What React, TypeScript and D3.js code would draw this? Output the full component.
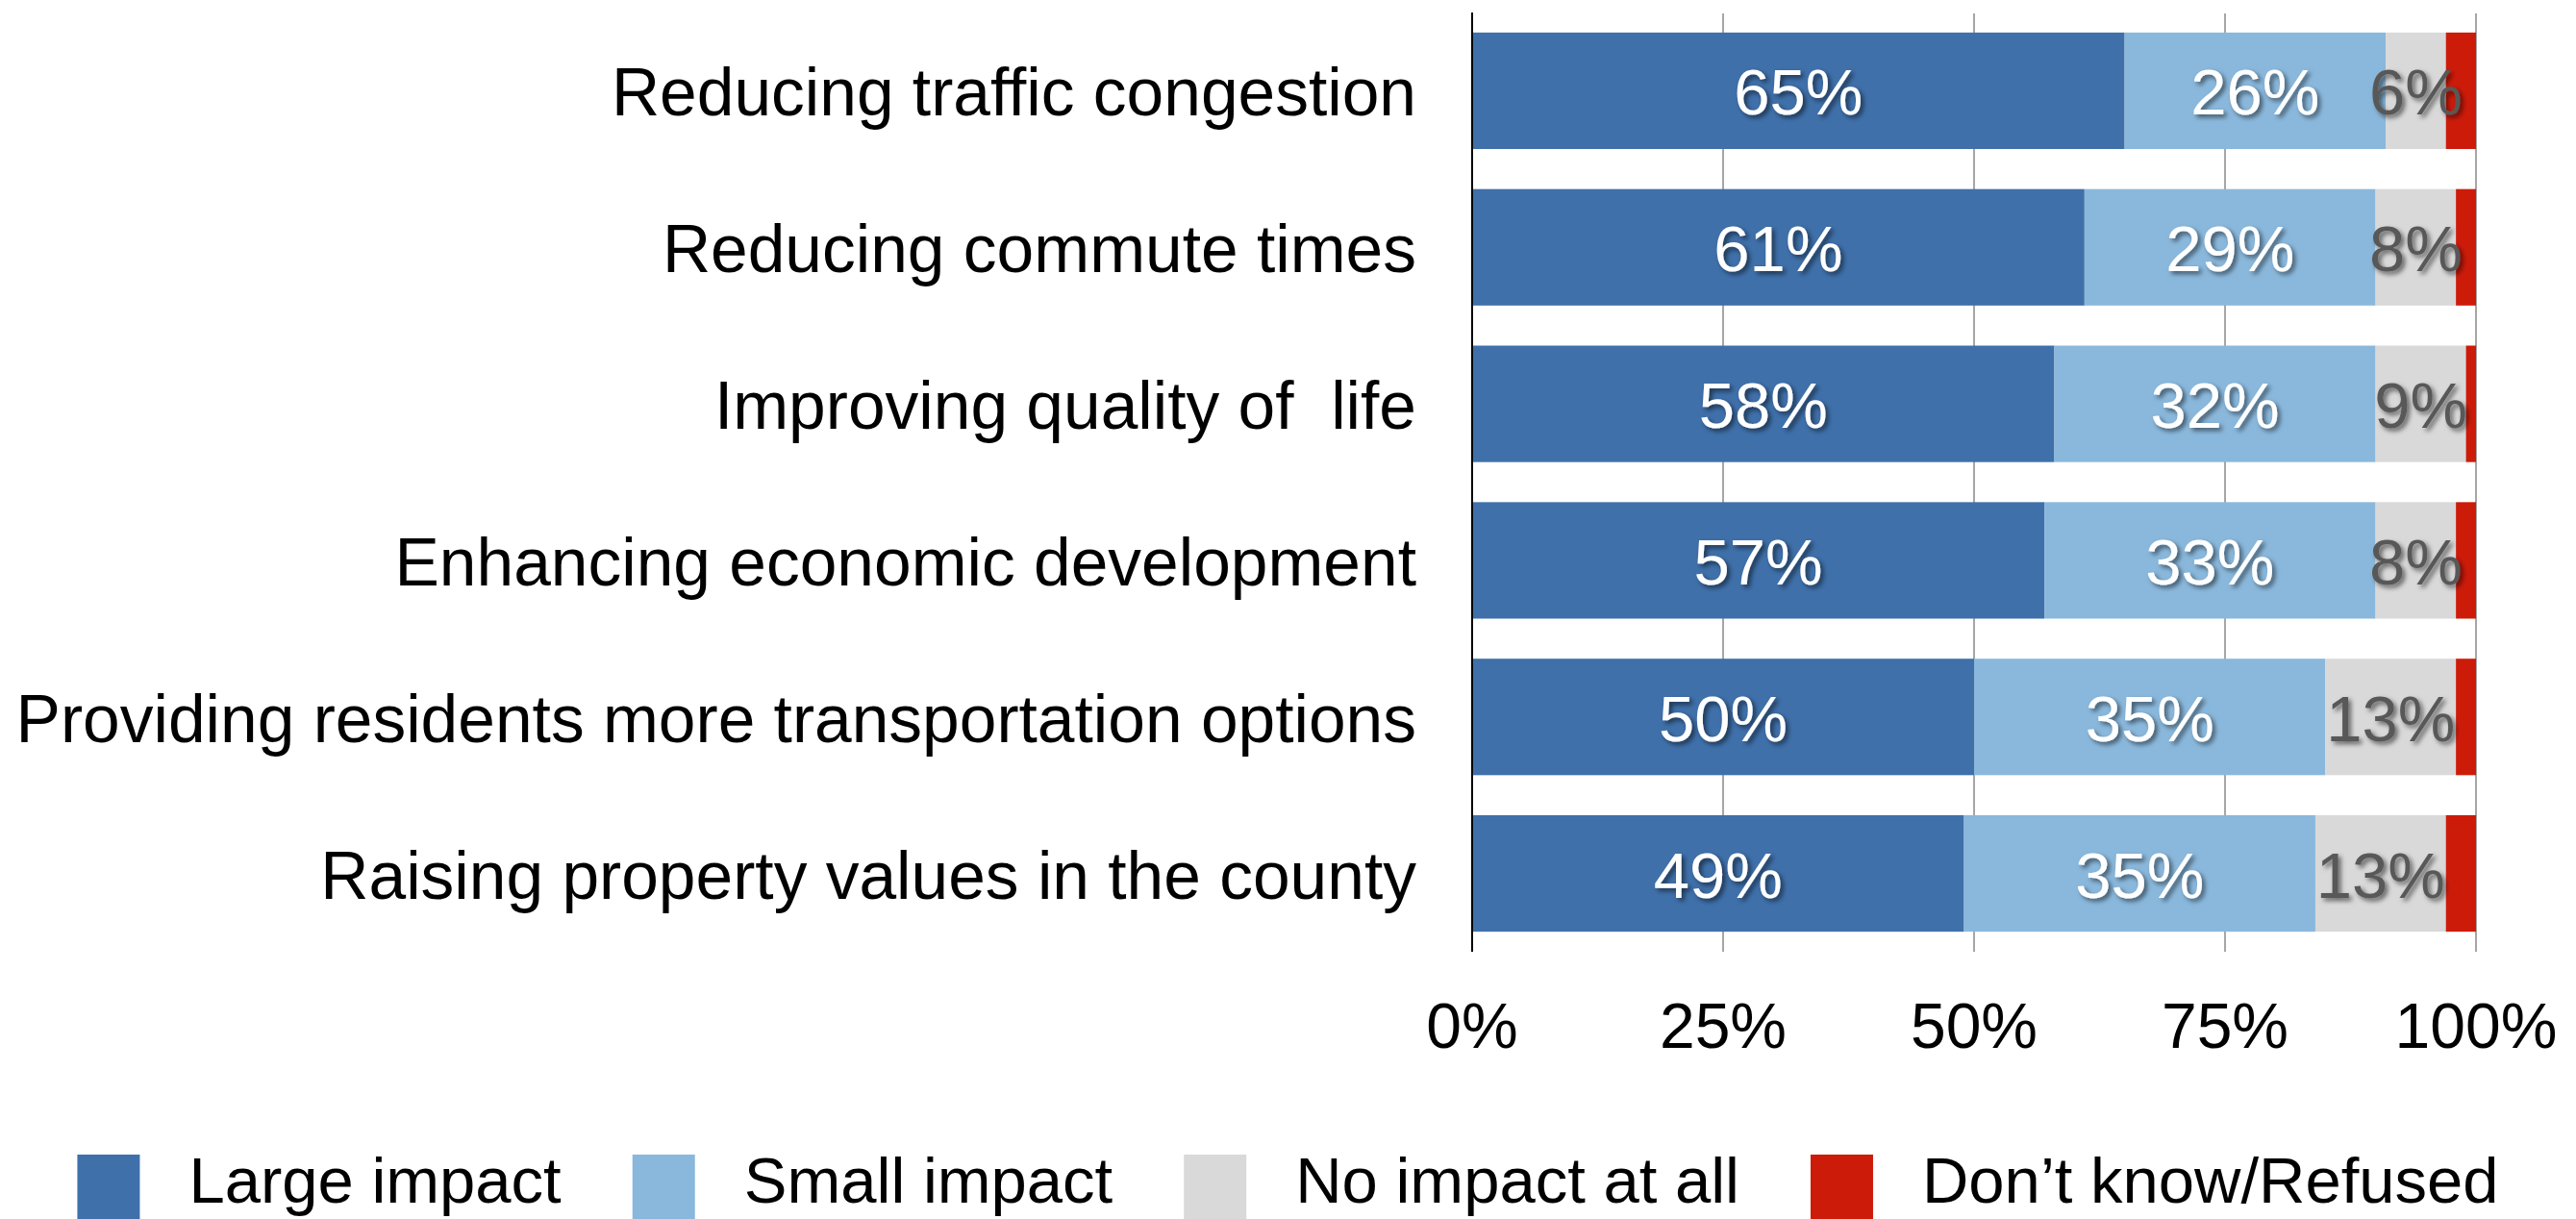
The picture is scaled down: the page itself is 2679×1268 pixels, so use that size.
import { useEffect, useRef } from 'react';
import * as d3 from 'd3';

const categories = [
  'Reducing traffic congestion',
  'Reducing commute times',
  'Improving quality of  life',
  'Enhancing economic development',
  'Providing residents more transportation options',
  'Raising property values in the county',
];
const seriesNames = ['Large impact', 'Small impact', 'No impact at all', 'Don\u2019t know/Refused'];
const largeImpact = [65, 61, 58, 57, 50, 49];
const smallImpact = [26, 29, 32, 33, 35, 35];
const noImpact = [6, 8, 9, 8, 13, 13];
const dontKnow = [3, 2, 1, 2, 2, 3];
const xTicks = [0, 25, 50, 75, 100];

const colors = ['#3F70AA', '#8AB8DC', '#D9D9D9', '#CD1B0A'];
const labelFill = ['#FFFFFF', '#FFFFFF', '#595959', null];
const FONT = "'Liberation Sans', Arial, sans-serif";

export default function App() {
  const ref = useRef<SVGSVGElement>(null);

  useEffect(() => {
    const el = ref.current;
    if (!el) return;
    const svg = d3.select(el);
    svg.selectAll('*').remove();

    const width = 2679;
    const height = 1268;
    const plot = { left: 1531, right: 2575, top: 13, bottom: 990 };

    const rows = categories.map((c, i) => ({
      cat: c,
      s0: largeImpact[i],
      s1: smallImpact[i],
      s2: noImpact[i],
      s3: dontKnow[i],
    }));
    const keys = ['s0', 's1', 's2', 's3'];
    const stacked = d3.stack<any>().keys(keys)(rows);

    const x = d3.scaleLinear().domain([0, 100]).range([plot.left, plot.right]);
    const y = d3.scaleBand<string>()
      .domain(categories)
      .range([plot.top, plot.bottom])
      .paddingInner(0.256)
      .paddingOuter(0.128);

    const defs = svg.append('defs');
    const shadow = defs.append('filter').attr('id', 'lblshadow')
      .attr('x', '-20%').attr('y', '-20%').attr('width', '140%').attr('height', '160%');
    shadow.append('feDropShadow')
      .attr('dx', 3).attr('dy', 3).attr('stdDeviation', 2.5)
      .attr('flood-color', '#000').attr('flood-opacity', 0.55);

    // gridlines
    svg.append('g')
      .selectAll('line')
      .data(xTicks.filter(t => t > 0))
      .join('line')
      .attr('x1', d => x(d)).attr('x2', d => x(d))
      .attr('y1', plot.top + 1).attr('y2', plot.bottom)
      .attr('stroke', '#A6A6A6')
      .attr('stroke-width', 2);

    // bars
    stacked.forEach((layer, k) => {
      svg.append('g')
        .selectAll('rect')
        .data(layer)
        .join('rect')
        .attr('x', d => x(d[0]))
        .attr('width', d => x(d[1]) - x(d[0]))
        .attr('y', d => y(d.data.cat)!)
        .attr('height', y.bandwidth())
        .attr('fill', colors[k]);
    });

    // axis line
    svg.append('line')
      .attr('x1', plot.left).attr('x2', plot.left)
      .attr('y1', plot.top).attr('y2', plot.bottom)
      .attr('stroke', '#000')
      .attr('stroke-width', 2);

    // data labels
    stacked.forEach((layer, k) => {
      const fill = labelFill[k];
      if (!fill) return;
      svg.append('g')
        .selectAll('text')
        .data(layer)
        .join('text')
        .attr('x', d => (x(d[0]) + x(d[1])) / 2)
        .attr('y', d => y(d.data.cat)! + y.bandwidth() / 2 + 25)
        .attr('text-anchor', 'middle')
        .attr('font-family', FONT)
        .attr('font-size', 67)
        .attr('fill', fill)
        .attr('filter', 'url(#lblshadow)')
        .text(d => `${d[1] - d[0]}%`);
    });

    // category labels
    svg.append('g')
      .selectAll('text')
      .data(categories)
      .join('text')
      .attr('x', plot.left - 58)
      .attr('y', d => y(d)! + y.bandwidth() / 2 + 26)
      .attr('text-anchor', 'end')
      .attr('font-family', FONT)
      .attr('font-size', 69.5)
      .attr('fill', '#000')
      .attr('xml:space', 'preserve')
      .style('white-space', 'pre')
      .text(d => d);

    // tick labels
    svg.append('g')
      .selectAll('text')
      .data(xTicks)
      .join('text')
      .attr('x', d => x(d))
      .attr('y', plot.bottom + 100)
      .attr('text-anchor', 'middle')
      .attr('font-family', FONT)
      .attr('font-size', 66)
      .attr('fill', '#000')
      .text(d => `${d}%`);

    // legend, centred on the page
    const sw = 65;
    const swGap = 51;
    const itemGap = 74;
    const legend = svg.append('g');
    const items = seriesNames.map((name, i) => {
      const g = legend.append('g');
      g.append('rect')
        .attr('width', sw).attr('height', 67)
        .attr('y', 1201)
        .attr('fill', colors[i]);
      const t = g.append('text')
        .attr('x', sw + swGap)
        .attr('y', 1251)
        .attr('font-family', FONT)
        .attr('font-size', 67)
        .attr('fill', '#000')
        .text(name);
      const w = sw + swGap + (t.node() as SVGTextElement).getComputedTextLength();
      return { g, w };
    });
    const total = d3.sum(items, d => d.w) + itemGap * (items.length - 1);
    let cx = (width - total) / 2;
    items.forEach(it => {
      it.g.attr('transform', `translate(${cx},0)`);
      cx += it.w + itemGap;
    });

    svg.attr('width', width).attr('height', height);
  }, []);

  return (
    <svg
      ref={ref}
      width={2679}
      height={1268}
      style={{ position: 'absolute', left: 0, top: 0, display: 'block', background: '#fff' }}
    />
  );
}
